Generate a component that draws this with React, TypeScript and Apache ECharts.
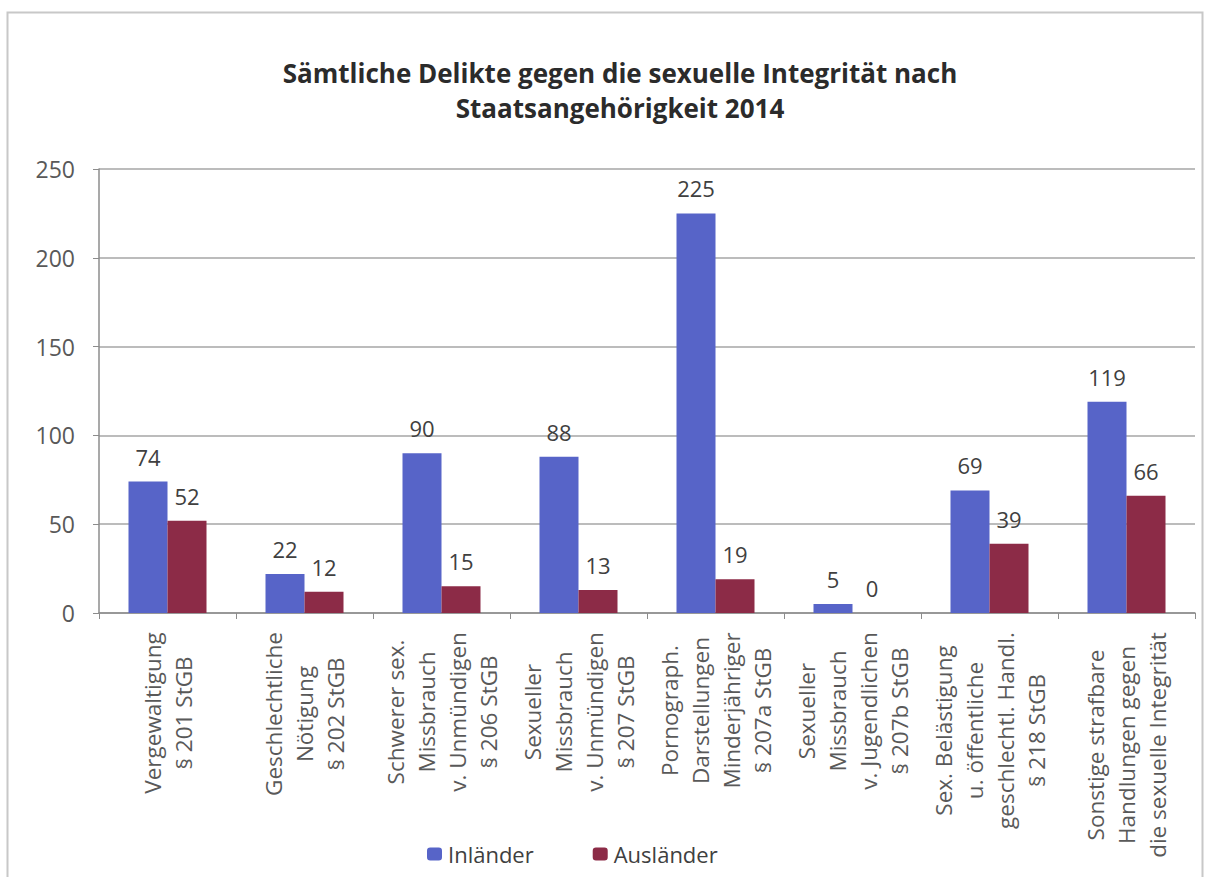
import React, { useEffect, useRef } from "react";
import * as echarts from "echarts";

const title = "Sämtliche Delikte gegen die sexuelle Integrität nach\nStaatsangehörigkeit 2014";
const categories = [
  "Vergewaltigung\n§ 201 StGB",
  "Geschlechtliche\nNötigung\n§ 202 StGB",
  "Schwerer sex.\nMissbrauch\nv. Unmündigen\n§ 206 StGB",
  "Sexueller\nMissbrauch\nv. Unmündigen\n§ 207 StGB",
  "Pornograph.\nDarstellungen\nMinderjähriger\n§ 207a StGB",
  "Sexueller\nMissbrauch\nv. Jugendlichen\n§ 207b StGB",
  "Sex. Belästigung\nu. öffentliche\ngeschlechtl. Handl.\n§ 218 StGB",
  "Sonstige strafbare\nHandlungen gegen\ndie sexuelle Integrität",
];
const seriesNames = ["Inländer", "Ausländer"];
const inlaender = [74, 22, 90, 88, 225, 5, 69, 119];
const auslaender = [52, 12, 15, 13, 19, 0, 39, 66];
const yTicks = { min: 0, max: 250, interval: 50 };

const FONT = "Open Sans, sans-serif";
const LABEL_SIZE = 22.5;

export default function App() {
  const ref = useRef<HTMLDivElement>(null);
  useEffect(() => {
    if (!ref.current) return;
    const chart = echarts.init(ref.current, null, { renderer: "svg" });
    const canvas = document.createElement("canvas");
    const ctx = canvas.getContext("2d")!;
    ctx.font = `${LABEL_SIZE}px Open Sans`;
    const rich: Record<string, any> = {};
    categories.forEach((c, i) => {
      const w = Math.max(...c.split("\n").map((l) => ctx.measureText(l).width));
      rich["c" + i] = {
        width: Math.ceil(w) + 2,
        align: "center",
        fontSize: LABEL_SIZE,
        fontFamily: FONT,
        color: "#595959",
        lineHeight: 31,
      };
    });
    const labelCommon = {
      show: true,
      position: "top",
      distance: 14,
      fontSize: 22,
      fontFamily: FONT,
      color: "#404040",
    };
    chart.setOption({
      animation: false,
      backgroundColor: "#ffffff",
      title: {
        text: title,
        left: 615,
        textAlign: "center",
        top: 50,
        textStyle: {
          fontFamily: FONT,
          fontWeight: "bold",
          fontSize: 26,
          lineHeight: 35,
          color: "#2b2b2b",
        },
      },
      graphic: [
        {
          type: "rect",
          left: 5,
          top: 10,
          shape: { width: 1195, height: 900 },
          style: { fill: "none", stroke: "#c8c8c8", lineWidth: 2 },
          silent: true,
        },
      ],
      legend: {
        data: seriesNames,
        left: 422,
        top: 838,
        itemWidth: 15,
        itemHeight: 13,
        itemGap: 59,
        icon: "roundRect",
        textStyle: { fontFamily: FONT, fontSize: 22, color: "#404040", padding: [0, 0, 0, 1] },
      },
      grid: { left: 99, right: 12, top: 169, bottom: 264 },
      xAxis: {
        type: "category",
        data: categories,
        axisLine: { lineStyle: { color: "#8c8c8c", width: 1.5 } },
        axisTick: { show: true, length: 6, lineStyle: { color: "#8c8c8c" } },
        axisLabel: {
          interval: 0,
          rotate: 90,
          margin: 18,
          formatter: (v: string, i: number) =>
            v
              .split("\n")
              .map((l) => `{c${i}|${l}}`)
              .join("\n"),
          rich,
        },
      },
      yAxis: {
        type: "value",
        min: yTicks.min,
        max: yTicks.max,
        interval: yTicks.interval,
        axisLine: { show: true, lineStyle: { color: "#8c8c8c", width: 1.5 } },
        axisTick: { show: true, length: 6, lineStyle: { color: "#8c8c8c" } },
        axisLabel: {
          margin: 24,
          fontFamily: FONT,
          fontSize: 23,
          color: "#595959",
        },
        splitLine: { lineStyle: { color: "#a6a6a6", width: 1.5 } },
      },
      series: [
        {
          name: seriesNames[0],
          type: "bar",
          data: inlaender,
          barWidth: 39,
          barGap: "0%",
          itemStyle: { color: "#5764c8" },
          label: labelCommon,
        },
        {
          name: seriesNames[1],
          type: "bar",
          data: auslaender,
          barWidth: 39,
          itemStyle: { color: "#8c2b47" },
          label: labelCommon,
        },
      ],
    });
    return () => chart.dispose();
  }, []);
  return (
    <div
      ref={ref}
      style={{ position: "fixed", left: 0, top: 0, width: 1207, height: 877 }}
    />
  );
}
